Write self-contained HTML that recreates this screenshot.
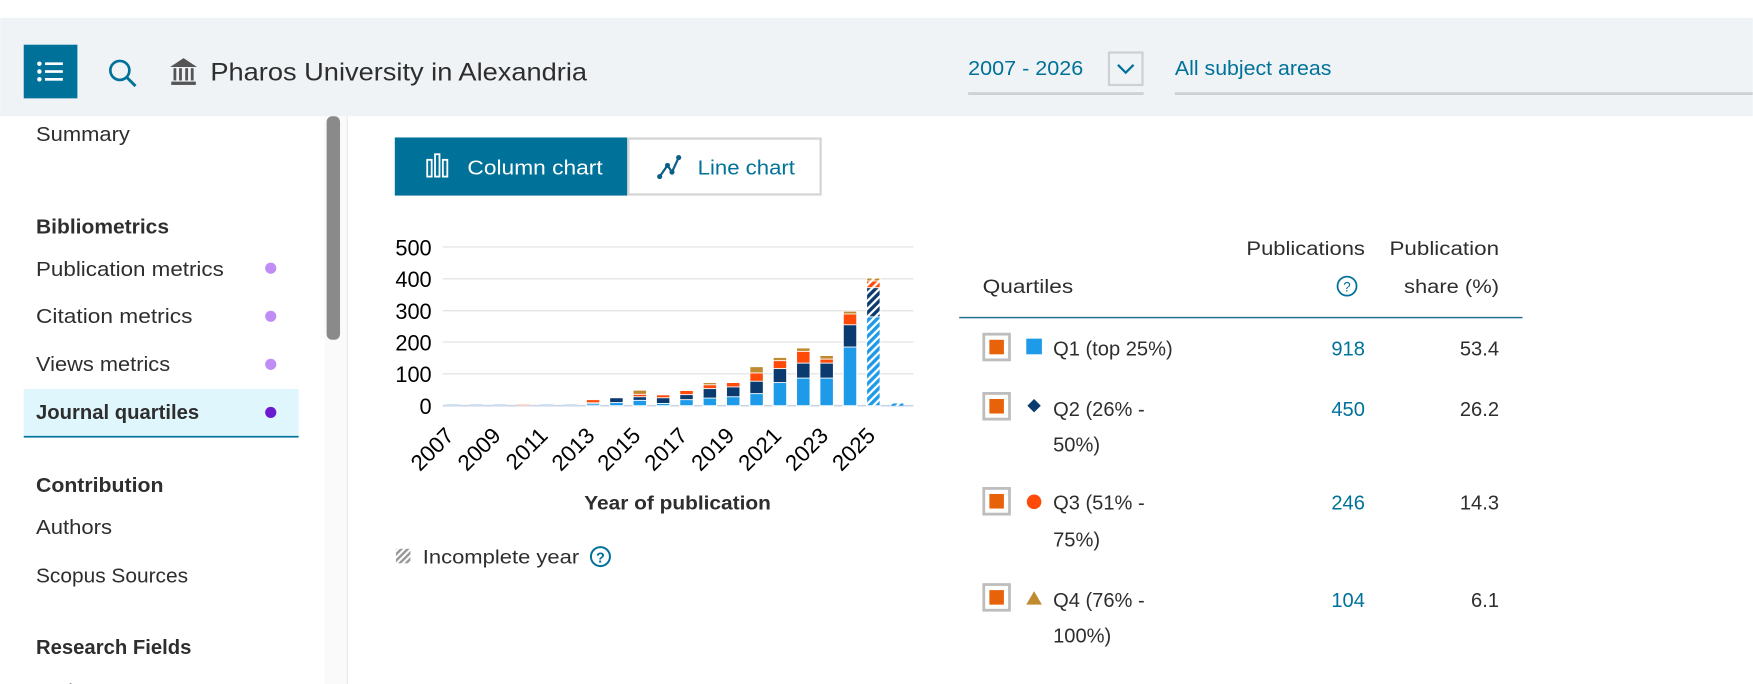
<!DOCTYPE html>
<html><head><meta charset="utf-8"><style>
html,body{margin:0;padding:0;background:#fff;overflow:hidden}
svg{display:block}
text{font-family:"Liberation Sans",sans-serif}
</style></head><body>
<svg width="1753" height="684" viewBox="0 0 1568 612" xmlns="http://www.w3.org/2000/svg">
<defs>
<pattern id="h1" width="5" height="5" patternUnits="userSpaceOnUse" patternTransform="rotate(45)"><rect width="5" height="5" fill="#fff"/><rect width="3" height="5" fill="#1e9be8"/></pattern>
<pattern id="h2" width="5" height="5" patternUnits="userSpaceOnUse" patternTransform="rotate(45)"><rect width="5" height="5" fill="#fff"/><rect width="3" height="5" fill="#0b3a6e"/></pattern>
<pattern id="h3" width="5" height="5" patternUnits="userSpaceOnUse" patternTransform="rotate(45)"><rect width="5" height="5" fill="#fff"/><rect width="3" height="5" fill="#ff4a0a"/></pattern>
<pattern id="h4" width="5" height="5" patternUnits="userSpaceOnUse" patternTransform="rotate(45)"><rect width="5" height="5" fill="#fff"/><rect width="3" height="5" fill="#c08a30"/></pattern>
<pattern id="hg" width="4" height="4" patternUnits="userSpaceOnUse" patternTransform="rotate(45)"><rect width="4" height="4" fill="#fff"/><rect width="2.2" height="4" fill="#999"/></pattern>
</defs>
<rect width="1568" height="612" fill="#fff"/>
<!-- header -->
<rect x="0" y="16" width="1568" height="88" fill="#eff3f6"/>
<rect x="21" y="40" width="48" height="48" fill="#00729a"/>
<g fill="#fff"><circle cx="35" cy="57" r="2"/><circle cx="35" cy="64" r="2"/><circle cx="35" cy="71" r="2"/>
<rect x="40" y="55.8" width="16" height="2.4"/><rect x="40" y="62.8" width="16" height="2.4"/><rect x="40" y="69.8" width="16" height="2.4"/></g>
<circle cx="107" cy="63" r="8.5" fill="none" stroke="#00729a" stroke-width="2.4"/>
<line x1="113" y1="69" x2="121" y2="77" stroke="#00729a" stroke-width="2.6"/>
<g fill="#555"><path d="M152 60 L164 52 L176 60 Z"/><rect x="153" y="73" width="22" height="3"/><rect x="155" y="61" width="2.5" height="11"/><rect x="160" y="61" width="2.5" height="11"/><rect x="165.5" y="61" width="2.5" height="11"/><rect x="170.5" y="61" width="2.5" height="11"/></g>
<text x="188" y="72" font-size="22" fill="#2e2e2e" textLength="337" lengthAdjust="spacingAndGlyphs">Pharos University in Alexandria</text>
<text x="866" y="67" font-size="18" fill="#00729a" textLength="103" lengthAdjust="spacingAndGlyphs">2007 - 2026</text>
<rect x="866" y="82.5" width="157" height="2.5" fill="#cdd1d4"/>
<rect x="992" y="47" width="30" height="29" fill="none" stroke="#cdd1d4" stroke-width="2"/>
<path d="M1000 58 L1007 65 L1014 58" fill="none" stroke="#00729a" stroke-width="2"/>
<text x="1051" y="67" font-size="18" fill="#00729a" textLength="140" lengthAdjust="spacingAndGlyphs">All subject areas</text>
<rect x="1051" y="82.5" width="517" height="2.5" fill="#cdd1d4"/>
<!-- sidebar -->
<rect x="290" y="104" width="20" height="508" fill="#fafafa"/>
<rect x="292" y="104" width="12" height="200" rx="5" fill="#8a8a8a"/>
<rect x="310" y="104" width="1" height="508" fill="#e6e6e6"/>
<g font-size="18" fill="#2e2e2e">
<text x="32" y="126" textLength="84" lengthAdjust="spacingAndGlyphs">Summary</text>
<text x="32" y="209" font-weight="bold" textLength="119" lengthAdjust="spacingAndGlyphs">Bibliometrics</text>
<text x="32" y="247" textLength="168" lengthAdjust="spacingAndGlyphs">Publication metrics</text>
<text x="32" y="289" textLength="140" lengthAdjust="spacingAndGlyphs">Citation metrics</text>
<text x="32" y="332" textLength="120" lengthAdjust="spacingAndGlyphs">Views metrics</text>
<rect x="21" y="348" width="246" height="43" fill="#dff6fd"/>
<rect x="21" y="390" width="246" height="1.5" fill="#00729a"/>
<text x="32" y="375" font-weight="bold" textLength="146" lengthAdjust="spacingAndGlyphs">Journal quartiles</text>
<text x="32" y="440" font-weight="bold" textLength="114" lengthAdjust="spacingAndGlyphs">Contribution</text>
<text x="32" y="478" textLength="68" lengthAdjust="spacingAndGlyphs">Authors</text>
<text x="32" y="521" textLength="136" lengthAdjust="spacingAndGlyphs">Scopus Sources</text>
<text x="32" y="585" font-weight="bold" textLength="139" lengthAdjust="spacingAndGlyphs">Research Fields</text>
<text x="32" y="625">Topics</text>
</g>
<circle cx="242" cy="240" r="5" fill="#c08cf5"/><circle cx="242" cy="283" r="5" fill="#c08cf5"/><circle cx="242" cy="326" r="5" fill="#c08cf5"/><circle cx="242" cy="369" r="5" fill="#6a1bd0"/>
<!-- buttons -->
<rect x="353" y="123" width="208" height="52" fill="#00729a"/>
<rect x="562" y="124" width="172" height="50" fill="#fff" stroke="#d4d4d4" stroke-width="2"/>
<g fill="none" stroke="#fff" stroke-width="1.6"><rect x="382" y="143" width="4" height="15"/><rect x="389" y="138" width="4" height="20"/><rect x="396" y="143" width="4" height="15"/></g>
<text x="418" y="156" font-size="18" fill="#fff" textLength="121" lengthAdjust="spacingAndGlyphs">Column chart</text>
<path d="M590 158 L597 148 L601 154 L607 141" fill="none" stroke="#0b5f86" stroke-width="2"/>
<circle cx="590" cy="158" r="2.3" fill="#0b5f86"/><circle cx="597" cy="148" r="2.3" fill="#0b5f86"/><circle cx="601" cy="154" r="2.3" fill="#0b5f86"/><circle cx="607" cy="141" r="2.3" fill="#0b5f86"/>
<text x="624" y="156" font-size="18" fill="#00729a" textLength="87" lengthAdjust="spacingAndGlyphs">Line chart</text>
<!-- chart -->
<g stroke="#e4e4e4" stroke-width="1.2">
<line x1="396" y1="221" x2="817" y2="221"/><line x1="396" y1="249.5" x2="817" y2="249.5"/><line x1="396" y1="278" x2="817" y2="278"/><line x1="396" y1="306" x2="817" y2="306"/><line x1="396" y1="334.5" x2="817" y2="334.5"/>
</g>
<line x1="396" y1="363" x2="817" y2="363" stroke="#c9d3e6" stroke-width="1.5"/>
<g font-size="19.5" fill="#000" text-anchor="end">
<text x="386" y="228.5">500</text><text x="386" y="257">400</text><text x="386" y="285.5">300</text><text x="386" y="313.5">200</text><text x="386" y="342">100</text><text x="386" y="370.5">0</text>
</g>
<g stroke="#fff" stroke-width="0.8">
<rect x="399" y="361.5" width="12" height="1.5" fill="#cfe2f5" stroke="none"/>
<rect x="420" y="361.5" width="12" height="1.5" fill="#cfe2f5" stroke="none"/>
<rect x="441" y="361.5" width="12" height="1.5" fill="#cfe2f5" stroke="none"/>
<rect x="462" y="361.5" width="12" height="1.5" fill="#ffd8c8" stroke="none"/>
<rect x="483" y="361.5" width="12" height="1.5" fill="#cfe2f5" stroke="none"/>
<rect x="504" y="361.5" width="12" height="1.5" fill="#cfe2f5" stroke="none"/>
<rect x="524.4" y="357" width="12" height="6" fill="#c08a30"/><rect x="524.4" y="357.6" width="12" height="5.4" fill="#ff4a0a"/><rect x="524.4" y="360.4" width="12" height="2.6" fill="#0b3a6e"/><rect x="524.4" y="361.3" width="12" height="1.7" fill="#1e9be8"/>
<rect x="545.3" y="355.9" width="12" height="7.1" fill="#0b3a6e"/><rect x="545.3" y="360.2" width="12" height="2.8" fill="#1e9be8"/>
<rect x="566.2" y="349.1" width="12" height="13.9" fill="#c08a30"/><rect x="566.2" y="352.8" width="12" height="10.2" fill="#ff4a0a"/><rect x="566.2" y="355" width="12" height="8" fill="#0b3a6e"/><rect x="566.2" y="358.2" width="12" height="4.8" fill="#1e9be8"/>
<rect x="587.1" y="353.3" width="12" height="9.7" fill="#ff4a0a"/><rect x="587.1" y="355.9" width="12" height="7.1" fill="#0b3a6e"/><rect x="587.1" y="361" width="12" height="2" fill="#1e9be8"/>
<rect x="608" y="349.4" width="12" height="13.6" fill="#ff4a0a"/><rect x="608" y="353.1" width="12" height="9.9" fill="#0b3a6e"/><rect x="608" y="357.6" width="12" height="5.4" fill="#1e9be8"/>
<rect x="628.9" y="342.3" width="12" height="20.7" fill="#c08a30"/><rect x="628.9" y="344.3" width="12" height="18.7" fill="#ff4a0a"/><rect x="628.9" y="347.7" width="12" height="15.3" fill="#0b3a6e"/><rect x="628.9" y="356.2" width="12" height="6.8" fill="#1e9be8"/>
<rect x="649.8" y="342.3" width="12" height="20.7" fill="#ff4a0a"/><rect x="649.8" y="346.2" width="12" height="16.8" fill="#0b3a6e"/><rect x="649.8" y="355" width="12" height="8" fill="#1e9be8"/>
<rect x="670.7" y="328.1" width="12" height="34.9" fill="#c08a30"/><rect x="670.7" y="333.7" width="12" height="29.3" fill="#ff4a0a"/><rect x="670.7" y="341.1" width="12" height="21.9" fill="#0b3a6e"/><rect x="670.7" y="352.2" width="12" height="10.8" fill="#1e9be8"/>
<rect x="691.6" y="319.8" width="12" height="43.2" fill="#c08a30"/><rect x="691.6" y="322.7" width="12" height="40.3" fill="#ff4a0a"/><rect x="691.6" y="329.8" width="12" height="33.2" fill="#0b3a6e"/><rect x="691.6" y="342.3" width="12" height="20.7" fill="#1e9be8"/>
<rect x="712.5" y="311.3" width="12" height="51.7" fill="#c08a30"/><rect x="712.5" y="314.4" width="12" height="48.6" fill="#ff4a0a"/><rect x="712.5" y="324.9" width="12" height="38.1" fill="#0b3a6e"/><rect x="712.5" y="338.3" width="12" height="24.7" fill="#1e9be8"/>
<rect x="733.4" y="318.1" width="12" height="44.9" fill="#c08a30"/><rect x="733.4" y="321.3" width="12" height="41.7" fill="#ff4a0a"/><rect x="733.4" y="324.9" width="12" height="38.1" fill="#0b3a6e"/><rect x="733.4" y="338.3" width="12" height="24.7" fill="#1e9be8"/>
<rect x="754.3" y="278.4" width="12" height="84.6" fill="#c08a30"/><rect x="754.3" y="280.9" width="12" height="82.1" fill="#ff4a0a"/><rect x="754.3" y="290.6" width="12" height="72.4" fill="#0b3a6e"/><rect x="754.3" y="310.5" width="12" height="52.5" fill="#1e9be8"/>
<rect x="775.2" y="248.8" width="12" height="114.2" fill="url(#h4)"/><rect x="775.2" y="251.4" width="12" height="111.6" fill="url(#h3)"/><rect x="775.2" y="257.4" width="12" height="105.6" fill="url(#h2)"/><rect x="775.2" y="283.5" width="12" height="79.5" fill="url(#h1)"/>
<rect x="796.1" y="361" width="12" height="2" fill="url(#h1)" stroke="none"/>
</g>
<g font-size="20" fill="#000" text-anchor="end">
<text transform="translate(407,391) rotate(-45)">2007</text>
<text transform="translate(449,391) rotate(-45)">2009</text>
<text transform="translate(491,391) rotate(-45)">2011</text>
<text transform="translate(533,391) rotate(-45)">2013</text>
<text transform="translate(574,391) rotate(-45)">2015</text>
<text transform="translate(616,391) rotate(-45)">2017</text>
<text transform="translate(658,391) rotate(-45)">2019</text>
<text transform="translate(700,391) rotate(-45)">2021</text>
<text transform="translate(742,391) rotate(-45)">2023</text>
<text transform="translate(784,391) rotate(-45)">2025</text>
</g>
<text x="606" y="456" font-size="17" font-weight="bold" fill="#2e2e2e" text-anchor="middle" textLength="167" lengthAdjust="spacingAndGlyphs">Year of publication</text>
<rect x="354" y="491" width="13" height="13" fill="url(#hg)"/>
<text x="378" y="504" font-size="17" fill="#2e2e2e" textLength="140" lengthAdjust="spacingAndGlyphs">Incomplete year</text>
<circle cx="537" cy="498" r="8.5" fill="none" stroke="#00729a" stroke-width="1.8"/>
<text x="537" y="503.5" font-size="13" font-weight="bold" fill="#00729a" text-anchor="middle">?</text>
<!-- table -->
<g font-size="17" fill="#2e2e2e">
<text x="879" y="262" textLength="81" lengthAdjust="spacingAndGlyphs">Quartiles</text>
<text x="1221" y="228" text-anchor="end" textLength="106" lengthAdjust="spacingAndGlyphs">Publications</text>
<text x="1341" y="228" text-anchor="end" textLength="98" lengthAdjust="spacingAndGlyphs">Publication</text>
<text x="1341" y="262" text-anchor="end" textLength="85" lengthAdjust="spacingAndGlyphs">share (%)</text>
</g>
<circle cx="1205" cy="256" r="8.5" fill="none" stroke="#00729a" stroke-width="1.6"/>
<text x="1205" y="261" font-size="12" fill="#00729a" text-anchor="middle">?</text>
<rect x="858" y="283.5" width="504" height="1.3" fill="#1f6e8c"/>
<g>
<rect x="880" y="299" width="23" height="23" fill="none" stroke="#bdbdbd" stroke-width="2.5"/><rect x="885" y="304" width="13" height="13" fill="#e8620a"/>
<rect x="880" y="352" width="23" height="23" fill="none" stroke="#bdbdbd" stroke-width="2.5"/><rect x="885" y="357" width="13" height="13" fill="#e8620a"/>
<rect x="880" y="437" width="23" height="23" fill="none" stroke="#bdbdbd" stroke-width="2.5"/><rect x="885" y="442" width="13" height="13" fill="#e8620a"/>
<rect x="880" y="523" width="23" height="23" fill="none" stroke="#bdbdbd" stroke-width="2.5"/><rect x="885" y="528" width="13" height="13" fill="#e8620a"/>
</g>
<rect x="918" y="303" width="14" height="14" fill="#1e9be8"/>
<path d="M925 357 L931 363 L925 369 L919 363 Z" fill="#0b3a6e"/>
<circle cx="925" cy="449" r="6.5" fill="#ff4a0a"/>
<path d="M925 529 L932 541 L918 541 Z" fill="#c08a30"/>
<g font-size="18" fill="#2e2e2e">
<text x="942" y="318">Q1 (top 25%)</text>
<text x="942" y="372">Q2 (26% -</text><text x="942" y="404">50%)</text>
<text x="942" y="456">Q3 (51% -</text><text x="942" y="489">75%)</text>
<text x="942" y="543">Q4 (76% -</text><text x="942" y="575">100%)</text>
</g>
<g font-size="18" fill="#00729a" text-anchor="end">
<text x="1221" y="318">918</text><text x="1221" y="372">450</text><text x="1221" y="456">246</text><text x="1221" y="543">104</text>
</g>
<g font-size="18" fill="#2e2e2e" text-anchor="end">
<text x="1341" y="318">53.4</text><text x="1341" y="372">26.2</text><text x="1341" y="456">14.3</text><text x="1341" y="543">6.1</text>
</g>
</svg>
</body></html>
